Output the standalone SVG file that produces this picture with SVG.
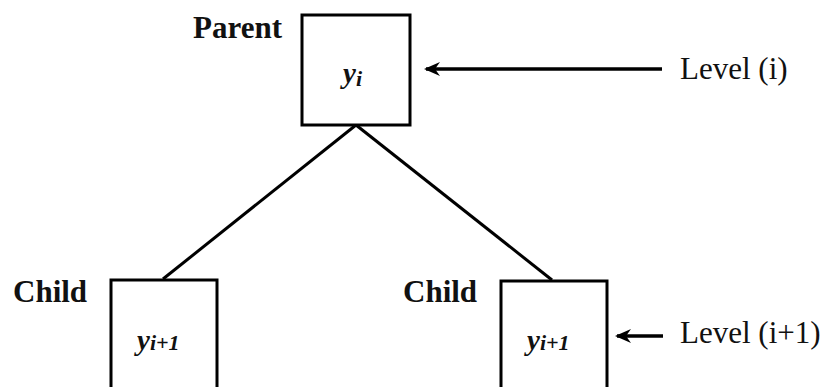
<svg xmlns="http://www.w3.org/2000/svg" width="826" height="387" viewBox="0 0 826 387">
<style>
text{font-family:'Liberation Serif','Times New Roman',Times,serif;fill:#111}
.box{fill:#fff;stroke:#000;stroke-width:3}
.lbl{font-weight:bold;font-size:31px}
.lvl{font-size:31px}
.var{font-weight:bold;font-style:italic;font-size:29px}
.sub{font-size:22px}
.edge{stroke:#000;stroke-width:3;fill:none}
.arr{stroke:#000;stroke-width:3.5;fill:none}
</style>
<defs>
<marker id="ah" viewBox="0 0 16 14" refX="14" refY="7" markerWidth="16" markerHeight="14" markerUnits="userSpaceOnUse" orient="auto">
<path d="M16,7 L0,0 L5,7 L0,14 Z" fill="#000"/>
</marker>
</defs>
<g id="connectors">
<line class="edge" x1="356" y1="125" x2="163" y2="279"/>
<line class="edge" x1="356" y1="125" x2="552" y2="280"/>
<line class="arr" x1="662" y1="69" x2="426" y2="69" marker-end="url(#ah)"/>
<line class="arr" x1="663" y1="336" x2="617" y2="336" marker-end="url(#ah)"/>
</g>
<g id="parent">
<rect class="box" x="302" y="15" width="108" height="110"/>
<text class="lbl" x="193" y="38">Parent</text>
<text class="var" x="343" y="83">y<tspan class="sub" dy="3">i</tspan></text>
</g>
<g id="child-left">
<rect class="box" x="111" y="280" width="106" height="120"/>
<text class="lbl" x="13" y="302">Child</text>
<text class="var" x="137" y="350">y<tspan class="sub">i+1</tspan></text>
</g>
<g id="child-right">
<rect class="box" x="501" y="281" width="106" height="120"/>
<text class="lbl" x="403" y="302">Child</text>
<text class="var" x="527" y="350">y<tspan class="sub">i+1</tspan></text>
</g>
<g id="level-i">
<text class="lvl" x="680" y="79">Level (i)</text>
</g>
<g id="level-i1">
<text class="lvl" x="680" y="343">Level (i+1)</text>
</g>
</svg>
